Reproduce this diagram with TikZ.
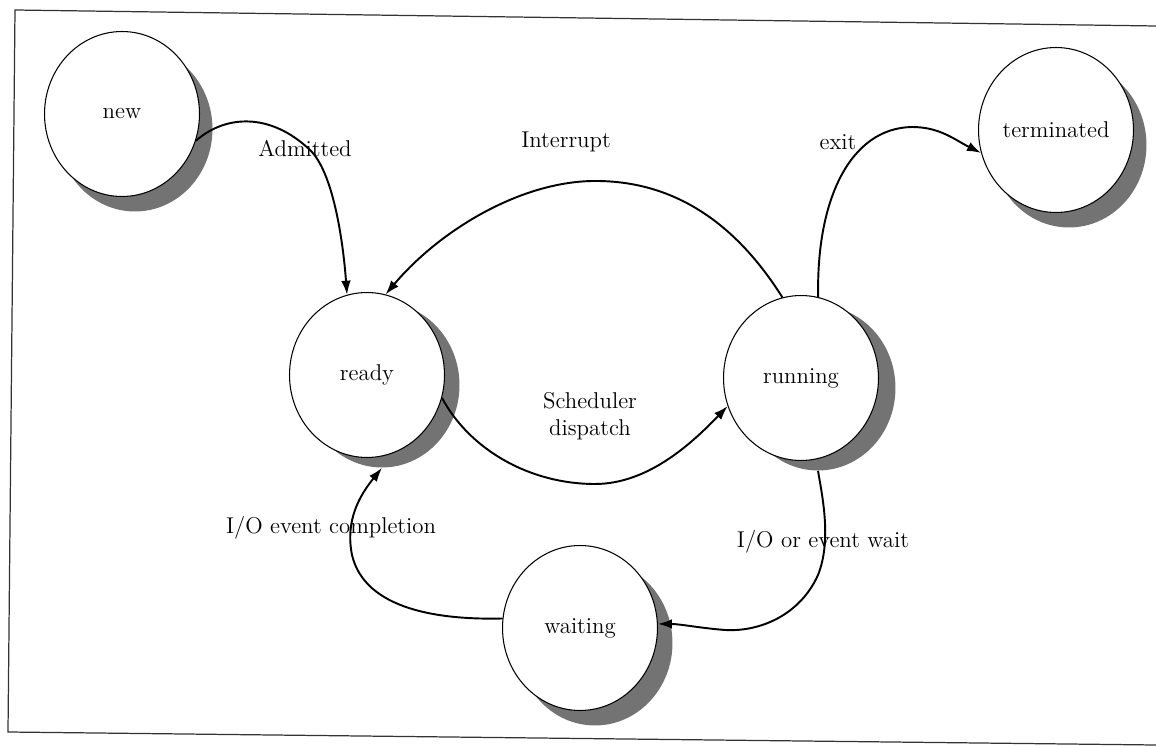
\documentclass[tikz,border=0pt]{standalone}
\usepackage{tikz}
\usetikzlibrary{arrows.meta, shapes.geometric}

\begin{document}
\begin{tikzpicture}[x=0.02cm, y=-0.02cm, >={Latex[length=8pt,width=5.5pt]},
  state/.style={ellipse, draw, line width=0.6pt, fill=white, minimum width=3.1cm,
    minimum height=3.3cm, inner sep=0pt, font=\fontsize{13}{15}\selectfont},
  statesh/.style={ellipse, fill=black!55, minimum width=3.1cm, minimum height=3.3cm,
    inner sep=0pt},
  lbl/.style={font=\fontsize{13}{15}\selectfont, inner sep=0pt},
  trans/.style={->, line width=1.1pt}]
  \useasboundingbox (0,0) rectangle (1156,746);
  % frame of the page
  \draw [line width=0.7pt, black!80] (1156,26) -- (15,10) -- (8,732) -- (1156,745);

  % shadows
  \node [statesh] (new-sh) at (135,129) {};
  \node [statesh] (term-sh) at (1069,145) {};
  \node [statesh] (ready-sh) at (382,385) {};
  \node [statesh] (run-sh) at (818,388) {};
  \node [statesh] (wait-sh) at (595,643) {};

  % states
  \node [state] (new) at (122,114) {new};
  \node [state] (term) at (1056,130) {terminated};
  \node [state] (ready) at (367,375) {ready};
  \node [state] (run) at (801,378) {running};
  \node [state] (wait) at (580,628) {waiting};

  % labels
  \node [lbl] (admitted) at (305,148) {Admitted};
  \node [lbl] (interrupt) at (566,142) {Interrupt};
  \node [lbl] (exit) at (838,142) {exit};
  \node [lbl, align=center] (dispatch) at (590,416) {Scheduler\\dispatch};
  \node [lbl] (iodone) at (331,528) {I/O event completion};
  \node [lbl] (iowait) at (823,542) {I/O or event wait};

  % transitions
  \draw [trans] (new.-20) .. controls (225,115) and (270,112) .. (310,150)
    .. controls (333,172) and (343,240) .. (ready.104);
  \draw [trans] (run.103) .. controls (740,230) and (680,180) .. (593,181)
    .. controls (520,182) and (440,230) .. (ready.77);
  \draw [trans] (run.78) .. controls (816,200) and (850,128) .. (912,127)
    .. controls (940,127) and (955,140) .. (term.197);
  \draw [trans] (ready.-17) .. controls (470,450) and (530,484) .. (595,484)
    .. controls (650,484) and (695,440) .. (run.201);
  \draw [trans] (run-sh.-90) .. controls (822,495) and (832,540) .. (818,575)
    .. controls (800,615) and (760,632) .. (725,630)
    .. controls (700,628) and (680,624) .. (wait.3);
  \draw [trans] (wait.173) .. controls (440,620) and (365,610) .. (352,555)
    .. controls (345,520) and (360,495) .. (ready-sh.-90);
\end{tikzpicture}
\end{document}
